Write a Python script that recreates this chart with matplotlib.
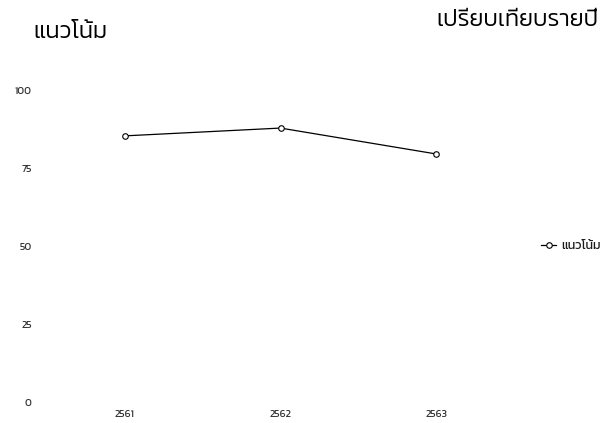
import matplotlib
matplotlib.use("Agg")
import matplotlib.pyplot as plt
from matplotlib import font_manager

plt.rcParams['font.family'] = ['Kanit', 'Prompt', 'Athiti', 'DejaVu Sans']

years = ['2561', '2562', '2563']
values = [85.3, 87.8, 79.5]
yticks = [0, 25, 50, 75, 100]
series_name = 'แนวโน้ม'
title_left = 'แนวโน้ม'
title_right = 'เปรียบเทียบรายปี'

# Kanit Light for the headings, if it is there
light_file = None
for f in font_manager.fontManager.ttflist:
    if f.fname.endswith('Kanit-Light.ttf'):
        light_file = f.fname
if light_file:
    title_font = font_manager.FontProperties(fname=light_file, size=17)
else:
    title_font = font_manager.FontProperties(family=['Kanit', 'DejaVu Sans'], size=16.5)

fig = plt.figure(figsize=(6.06, 4.23), dpi=100)
ax = fig.add_axes([47 / 606, 1 - 402 / 423, (514 - 47) / 606, (402 - 90) / 423])

x = range(len(years))
ax.plot(x, values, color='black', linewidth=0.9, marker='o', markersize=4,
        markerfacecolor='white', markeredgecolor='black', markeredgewidth=0.8,
        label=series_name)

ax.set_xlim(-0.5, len(years) - 0.5)
ax.set_ylim(0, 100)
ax.set_xticks(list(x))
ax.set_xticklabels(years)
ax.set_yticks(yticks)
ax.tick_params(length=0, labelsize=7.5, colors='#333333')
ax.tick_params(axis='x', pad=6)
ax.tick_params(axis='y', pad=11)
for s in ax.spines.values():
    s.set_visible(False)

fig.text(33 / 606, 1 - 32 / 423, title_left, fontproperties=title_font,
         color='black', va='center', ha='left')
fig.text(598 / 606, 1 - 20 / 423, title_right, fontproperties=title_font,
         color='black', va='center', ha='right')

fig.legend(loc='center left', bbox_to_anchor=(530 / 606, 1 - 246 / 423),
           frameon=False, fontsize=9, handlelength=1.2, handletextpad=0.4,
           labelcolor='#1a1a1a')

fig.savefig('out.png', dpi=100)
